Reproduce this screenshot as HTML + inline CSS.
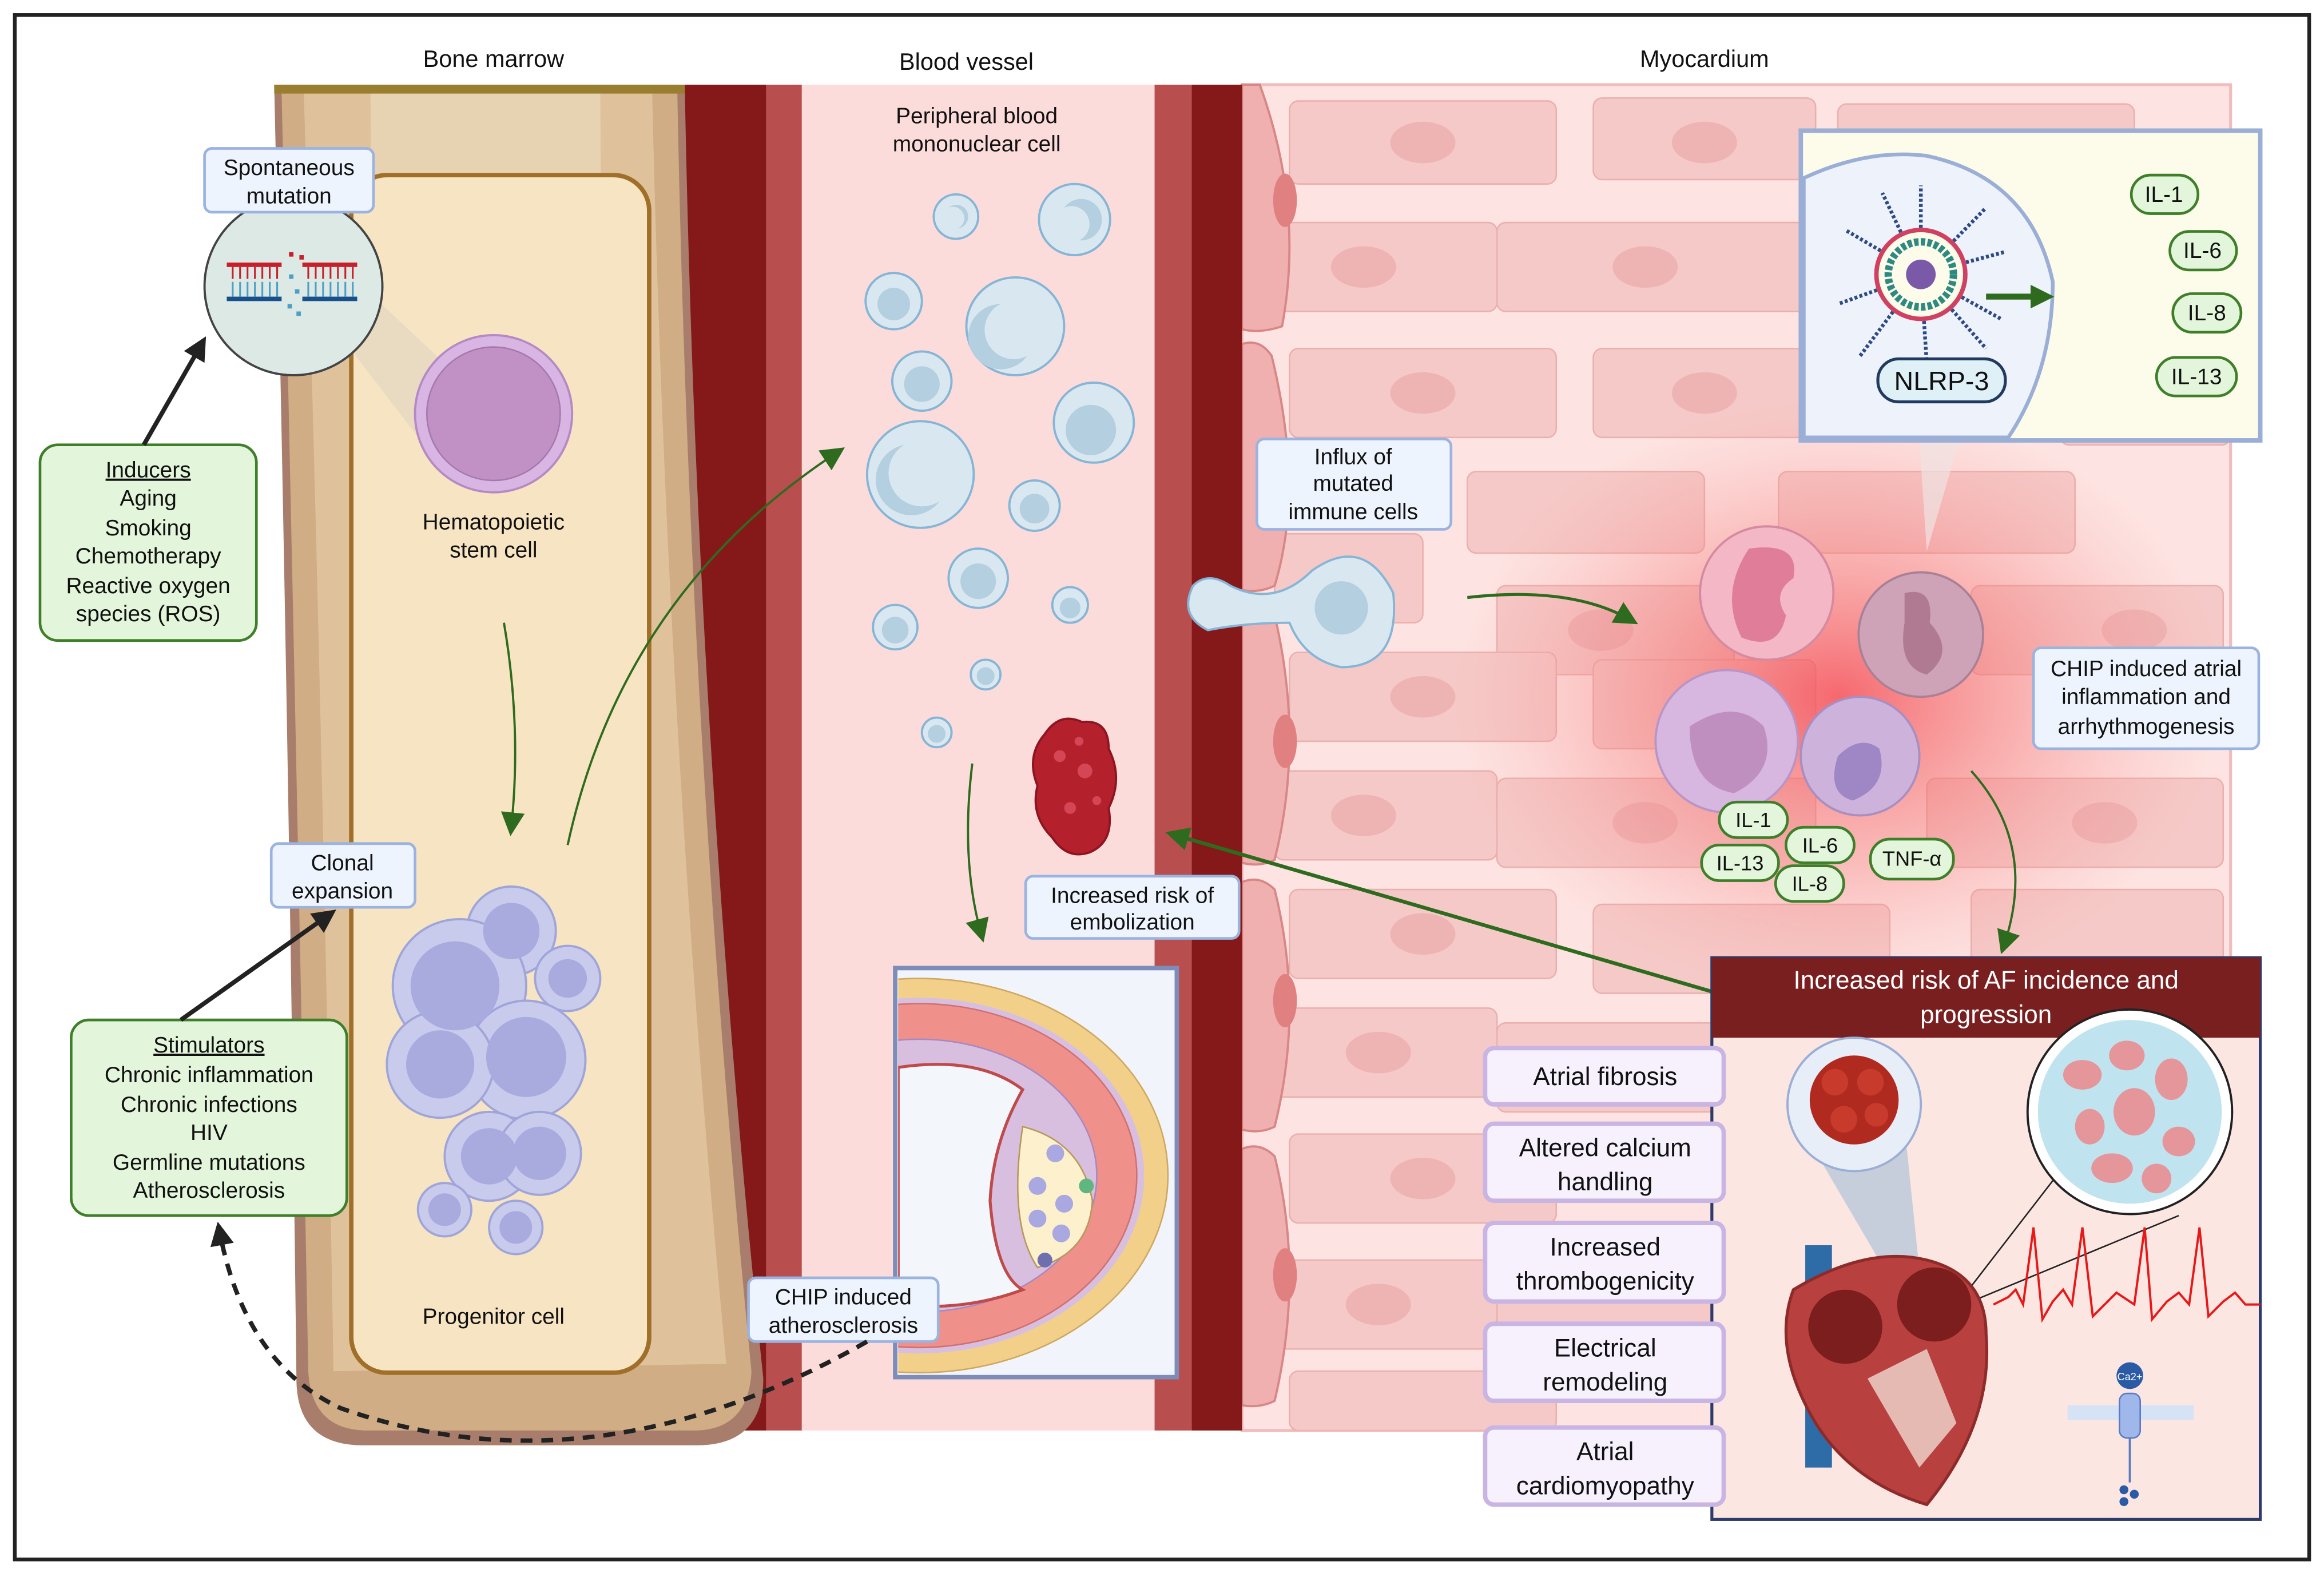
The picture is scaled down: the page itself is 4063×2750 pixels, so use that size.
<!DOCTYPE html>
<html><head><meta charset="utf-8"><style>
html,body{margin:0;padding:0;background:#fff}
svg{display:block}
text{font-family:"Liberation Sans Narrow","Liberation Sans",sans-serif;fill:#111}
</style></head><body>
<svg width="4063" height="2750" viewBox="0 0 1568 1061" xmlns="http://www.w3.org/2000/svg">
<defs>
<radialGradient id="glow" cx="0.5" cy="0.5" r="0.5">
<stop offset="0" stop-color="#f4525a" stop-opacity="0.85"/>
<stop offset="0.5" stop-color="#f57a7a" stop-opacity="0.45"/>
<stop offset="1" stop-color="#f8a0a0" stop-opacity="0"/>
</radialGradient>
<clipPath id="myo"><rect x="838" y="57" width="667" height="908"/></clipPath>
<clipPath id="ath"><rect x="606" y="655" width="186" height="272"/></clipPath>
<marker id="ga2" markerWidth="16" markerHeight="16" refX="10" refY="8" orient="auto" markerUnits="userSpaceOnUse"><path d="M0,0 L16,8 L0,16 z" fill="#2f6b1f"/></marker>
<marker id="ba" markerWidth="16" markerHeight="16" refX="10" refY="8" orient="auto" markerUnits="userSpaceOnUse"><path d="M0,0 L16,8 L0,16 z" fill="#222"/></marker>
</defs>
<rect x="0" y="0" width="1568" height="1061" fill="#fff"/>
<rect x="10" y="10" width="1548" height="1042" fill="none" stroke="#222" stroke-width="2.5"/>

<text x="333" y="45" font-size="16" text-anchor="middle">Bone marrow</text>
<text x="652" y="47" font-size="16" text-anchor="middle">Blood vessel</text>
<text x="1150" y="45" font-size="16" text-anchor="middle">Myocardium</text>

<!-- Myocardium -->
<rect x="838" y="57" width="667" height="908" fill="#fde4e2" stroke="#f0bcbc" stroke-width="2"/>
<g clip-path="url(#myo)" fill="#f5c9c7" stroke="#eab0ae" stroke-width="1">
<rect x="870" y="68" width="180" height="56" rx="6"/><rect x="1075" y="66" width="150" height="55" rx="6"/><rect x="1240" y="70" width="200" height="55" rx="6"/>
<rect x="860" y="150" width="150" height="60" rx="6"/><rect x="1010" y="150" width="215" height="60" rx="6"/><rect x="1300" y="150" width="200" height="60" rx="6"/>
<rect x="870" y="235" width="180" height="60" rx="6"/><rect x="1075" y="235" width="160" height="60" rx="6"/><rect x="1390" y="240" width="115" height="60" rx="6"/>
<rect x="990" y="318" width="160" height="55" rx="6"/><rect x="1200" y="318" width="200" height="55" rx="6"/>
<rect x="860" y="360" width="100" height="60" rx="6"/><rect x="1010" y="395" width="160" height="60" rx="6"/><rect x="1330" y="395" width="170" height="60" rx="6"/>
<rect x="870" y="440" width="180" height="60" rx="6"/><rect x="1075" y="445" width="150" height="60" rx="6"/>
<rect x="860" y="520" width="150" height="60" rx="6"/><rect x="1010" y="525" width="215" height="60" rx="6"/><rect x="1300" y="525" width="200" height="60" rx="6"/>
<rect x="870" y="600" width="180" height="60" rx="6"/><rect x="1075" y="610" width="200" height="60" rx="6"/><rect x="1330" y="600" width="170" height="60" rx="6"/>
<rect x="860" y="680" width="150" height="60" rx="6"/><rect x="1010" y="690" width="150" height="60" rx="6"/>
<rect x="870" y="765" width="180" height="60" rx="6"/><rect x="860" y="850" width="150" height="60" rx="6"/><rect x="1010" y="850" width="150" height="60" rx="6"/>
<rect x="870" y="925" width="180" height="40" rx="6"/>
</g>
<g fill="#eeb4b4">
<ellipse cx="960" cy="96" rx="22" ry="14"/><ellipse cx="1150" cy="96" rx="22" ry="14"/><ellipse cx="920" cy="180" rx="22" ry="14"/><ellipse cx="1110" cy="180" rx="22" ry="14"/><ellipse cx="960" cy="265" rx="22" ry="14"/><ellipse cx="1150" cy="265" rx="22" ry="14"/><ellipse cx="1080" cy="425" rx="22" ry="14"/><ellipse cx="960" cy="470" rx="22" ry="14"/><ellipse cx="920" cy="550" rx="22" ry="14"/><ellipse cx="1110" cy="555" rx="22" ry="14"/><ellipse cx="960" cy="630" rx="22" ry="14"/><ellipse cx="930" cy="710" rx="22" ry="14"/><ellipse cx="960" cy="795" rx="22" ry="14"/><ellipse cx="930" cy="880" rx="22" ry="14"/><ellipse cx="1420" cy="555" rx="22" ry="14"/><ellipse cx="1440" cy="425" rx="22" ry="14"/>
</g>
<ellipse cx="1240" cy="470" rx="260" ry="200" fill="url(#glow)"/>
<g fill="#f0b0b0" stroke="#d98686" stroke-width="1.5">
<path d="M838,57 L850,57 Q880,140 865,220 Q850,225 838,222 z"/>
<path d="M838,232 Q850,228 858,240 Q880,330 860,395 Q850,400 838,398 z"/>
<path d="M838,410 Q850,405 860,415 Q880,500 860,580 Q850,585 838,582 z"/>
<path d="M838,595 Q850,590 860,600 Q880,680 860,760 Q850,765 838,762 z"/>
<path d="M838,775 Q850,770 860,780 Q880,860 860,945 Q850,950 838,948 z"/>
</g>
<g fill="#e08080"><ellipse cx="867" cy="135" rx="8" ry="18"/><ellipse cx="867" cy="315" rx="8" ry="18"/><ellipse cx="867" cy="500" rx="8" ry="18"/><ellipse cx="867" cy="675" rx="8" ry="18"/><ellipse cx="867" cy="860" rx="8" ry="18"/></g>

<!-- Blood vessel -->
<rect x="462" y="57" width="55" height="908" fill="#85191a"/>
<rect x="517" y="57" width="24" height="908" fill="#b94e4e"/>
<rect x="541" y="57" width="238" height="908" fill="#fcdcdb"/>
<rect x="779" y="57" width="25" height="908" fill="#b94e4e"/>
<rect x="804" y="57" width="34" height="908" fill="#85191a"/>
<text x="659" y="83" font-size="15" text-anchor="middle">Peripheral blood</text>
<text x="659" y="102" font-size="15" text-anchor="middle">mononuclear cell</text>
<g fill="#d9e8f0" stroke="#86b5d6" stroke-width="1.5">
<circle cx="645" cy="146" r="15"/><circle cx="725" cy="148" r="24"/><circle cx="603" cy="203" r="19"/><circle cx="685" cy="220" r="33"/><circle cx="622" cy="257" r="20"/><circle cx="738" cy="285" r="27"/><circle cx="621" cy="320" r="36"/><circle cx="698" cy="341" r="17"/><circle cx="660" cy="390" r="20"/><circle cx="722" cy="408" r="12"/><circle cx="604" cy="423" r="15"/><circle cx="665" cy="455" r="10"/><circle cx="632" cy="494" r="10"/>
</g>
<g fill="#b3cfe0">
<path d="M640,140 a8,8 0 1,1 6,14 a4,4 0 1,0 -6,-14z"/><path d="M718,140 a14,14 0 1,1 10,22 a6,6 0 1,0 -10,-22z"/><circle cx="603" cy="205" r="11"/><path d="M675,205 a22,22 0 1,0 18,35 a10,10 0 1,1 -18,-35z"/><circle cx="622" cy="259" r="12"/><circle cx="736" cy="290" r="17"/><path d="M610,300 a24,24 0 1,0 24,38 a12,12 0 1,1 -24,-38z"/><circle cx="698" cy="343" r="10"/><circle cx="660" cy="392" r="12"/><circle cx="722" cy="410" r="7"/><circle cx="604" cy="425" r="9"/><circle cx="665" cy="456" r="6"/><circle cx="632" cy="495" r="6"/>
</g>
<path d="M705,495 Q715,480 730,487 Q748,485 748,505 Q758,525 748,545 Q752,568 735,575 Q720,580 710,565 Q695,550 700,530 Q692,510 705,495z" fill="#b5202d" stroke="#8e1520" stroke-width="1.5"/>
<g fill="#d44555"><circle cx="715" cy="510" r="4"/><circle cx="732" cy="520" r="5"/><circle cx="722" cy="545" r="4"/><circle cx="740" cy="540" r="3"/><circle cx="728" cy="500" r="3"/></g>
<!-- atherosclerosis inset -->
<rect x="604" y="653" width="190" height="276" fill="#f1f5fb" stroke="#7d8cb9" stroke-width="3"/>
<g clip-path="url(#ath)">
<ellipse cx="620" cy="793" rx="168" ry="133" fill="#f2d089" stroke="#cfa760"/>
<ellipse cx="620" cy="793" rx="152" ry="120" fill="#d8bfe0"/>
<ellipse cx="620" cy="793" rx="147" ry="116" fill="#f0908a" stroke="#d07070"/>
<ellipse cx="620" cy="793" rx="120" ry="92" fill="#d8bfe0" stroke="#a888c0"/>
<path d="M606,720 Q660,712 690,735 Q670,770 668,810 Q672,860 690,870 Q650,885 606,880z" fill="#f3f6fb" stroke="#c04a4a" stroke-width="2"/>
<path d="M690,760 Q730,770 737,810 Q735,845 700,855 Q680,825 690,760z" fill="#fdf0cc" stroke="#b8985a"/>
</g>
<g fill="#a9a8e0"><circle cx="712" cy="778" r="6"/><circle cx="700" cy="800" r="6"/><circle cx="718" cy="812" r="6"/><circle cx="700" cy="822" r="6"/><circle cx="716" cy="832" r="6"/></g>
<circle cx="733" cy="800" r="5" fill="#5fb67e"/><circle cx="705" cy="850" r="5" fill="#6f6fb0"/>

<!-- Bone -->
<path d="M185,57 L462,57 Q470,500 515,930 Q515,975 470,975 L245,975 Q200,975 200,930 Q195,500 185,57z" fill="#a97d6b"/>
<path d="M190,62 L457,62 Q465,500 507,925 Q505,965 468,965 L248,965 Q210,965 208,925 Q200,500 190,62z" fill="#d0ad85"/>
<path d="M205,62 L440,62 Q450,500 490,920 L225,925 Q218,500 205,62z" fill="#dfc29c"/>
<path d="M250,62 L405,62 L410,920 L255,920z" fill="#e7d3b1"/>
<rect x="185" y="57" width="277" height="6" fill="#9a7e2f"/>
<rect x="237" y="118" width="201" height="808" rx="24" fill="#f7e4c3" stroke="#a0702a" stroke-width="3"/>
<path d="M220,170 L300,245 L290,305 L240,240z" fill="#e3d8c2" opacity="0.8"/>
<circle cx="333" cy="279" r="53" fill="#d8b5e3" stroke="#b58ac4" stroke-width="1.5"/>
<circle cx="333" cy="279" r="45" fill="#c191c6" stroke="#a47aac" stroke-width="1"/>
<text x="333" y="357" font-size="15" text-anchor="middle">Hematopoietic</text>
<text x="333" y="376" font-size="15" text-anchor="middle">stem cell</text>
<g fill="#c9cbed" stroke="#9fa5d9" stroke-width="1.5">
<circle cx="345" cy="628" r="30"/><circle cx="383" cy="660" r="22"/><circle cx="310" cy="665" r="45"/><circle cx="355" cy="715" r="40"/><circle cx="297" cy="718" r="36"/><circle cx="330" cy="780" r="30"/><circle cx="364" cy="778" r="28"/><circle cx="300" cy="816" r="18"/><circle cx="348" cy="828" r="18"/>
</g>
<g fill="#a9aade"><circle cx="345" cy="628" r="19"/><circle cx="383" cy="660" r="13"/><circle cx="307" cy="665" r="30"/><circle cx="355" cy="713" r="27"/><circle cx="297" cy="718" r="23"/><circle cx="330" cy="780" r="19"/><circle cx="364" cy="778" r="18"/><circle cx="300" cy="816" r="11"/><circle cx="348" cy="828" r="11"/></g>
<text x="333" y="893" font-size="15" text-anchor="middle">Progenitor cell</text>

<circle cx="198" cy="193" r="60" fill="#dde9e5" stroke="#444" stroke-width="1.5"/>
<rect x="153" y="177" width="37" height="3" fill="#c8202a"/><rect x="204" y="177" width="37" height="3" fill="#c8202a"/>
<rect x="153" y="200" width="37" height="3" fill="#17508a"/><rect x="204" y="200" width="37" height="3" fill="#17508a"/>
<g stroke="#c8202a" stroke-width="1.2"><path d="M157,180v8M162,180v8M167,180v8M172,180v8M177,180v8M182,180v8M187,180v8M208,180v8M213,180v8M218,180v8M223,180v8M228,180v8M233,180v8M238,180v8"/></g>
<g stroke="#4aa0c8" stroke-width="1.2"><path d="M157,190v10M162,190v10M167,190v10M172,190v10M177,190v10M182,190v10M187,190v10M208,190v10M213,190v10M218,190v10M223,190v10M228,190v10M233,190v10M238,190v10"/></g>
<g fill="#4aa0c8"><rect x="195" y="185" width="3" height="3"/><rect x="199" y="195" width="3" height="3"/><rect x="194" y="205" width="3" height="3"/><rect x="200" y="210" width="3" height="3"/></g>
<g fill="#c8202a"><rect x="195" y="170" width="3" height="3"/><rect x="202" y="172" width="3" height="3"/></g>

<g fill="#eef4fd" stroke="#9bb3e0" stroke-width="1.8">
<rect x="138" y="100" width="114" height="43" rx="5"/>
<rect x="183" y="569" width="97" height="43" rx="5"/>
<rect x="692" y="591" width="144" height="42" rx="5"/>
<rect x="505" y="862" width="128" height="43" rx="5"/>
<rect x="848" y="296" width="131" height="61" rx="5"/>
<rect x="1372" y="437" width="152" height="68" rx="5"/>
</g>
<g font-size="15" text-anchor="middle">
<text x="195" y="118">Spontaneous</text><text x="195" y="137">mutation</text>
<text x="231" y="587">Clonal</text><text x="231" y="606">expansion</text>
<text x="764" y="609">Increased risk of</text><text x="764" y="627">embolization</text>
<text x="569" y="880">CHIP induced</text><text x="569" y="899">atherosclerosis</text>
<text x="913" y="313">Influx of</text><text x="913" y="331">mutated</text><text x="913" y="350">immune cells</text>
<text x="1448" y="456">CHIP induced atrial</text><text x="1448" y="475">inflammation and</text><text x="1448" y="495">arrhythmogenesis</text>
</g>

<rect x="27" y="300" width="146" height="132" rx="12" fill="#e3f5da" stroke="#3f7f2a" stroke-width="1.8"/>
<g font-size="15" text-anchor="middle">
<text x="100" y="322" text-decoration="underline">Inducers</text><text x="100" y="341">Aging</text><text x="100" y="361">Smoking</text><text x="100" y="380">Chemotherapy</text><text x="100" y="400">Reactive oxygen</text><text x="100" y="419">species (ROS)</text>
</g>
<rect x="48" y="688" width="186" height="132" rx="12" fill="#e3f5da" stroke="#3f7f2a" stroke-width="1.8"/>
<g font-size="15" text-anchor="middle">
<text x="141" y="710" text-decoration="underline">Stimulators</text><text x="141" y="730">Chronic inflammation</text><text x="141" y="750">Chronic infections</text><text x="141" y="769">HIV</text><text x="141" y="789">Germline mutations</text><text x="141" y="808">Atherosclerosis</text>
</g>

<line x1="97" y1="300" x2="136" y2="232" stroke="#222" stroke-width="3" marker-end="url(#ba)"/>
<line x1="122" y1="688" x2="222" y2="617" stroke="#222" stroke-width="3" marker-end="url(#ba)"/>
<path d="M585,905 Q400,1010 230,950 Q165,920 148,830" fill="none" stroke="#222" stroke-width="3" stroke-dasharray="8,6" marker-end="url(#ba)"/>
<path d="M340,420 Q352,490 345,558" fill="none" stroke="#2f6b1f" stroke-width="1.5" marker-end="url(#ga2)"/>
<path d="M383,570 Q420,400 565,305" fill="none" stroke="#2f6b1f" stroke-width="1.5" marker-end="url(#ga2)"/>
<path d="M656,515 Q648,580 662,630" fill="none" stroke="#2f6b1f" stroke-width="1.5" marker-end="url(#ga2)"/>
<path d="M990,403 Q1060,395 1100,418" fill="none" stroke="#2f6b1f" stroke-width="2" marker-end="url(#ga2)"/>
<path d="M1330,520 Q1375,570 1352,638" fill="none" stroke="#2f6b1f" stroke-width="1.5" marker-end="url(#ga2)"/>
<path d="M1200,682 L792,563" fill="none" stroke="#2f6b1f" stroke-width="2.5" marker-end="url(#ga2)"/>

<path d="M805,395 Q815,385 830,395 Q860,410 885,385 Q920,360 940,400 Q945,450 905,450 Q880,445 870,420 Q840,420 815,425 Q795,415 805,395z" fill="#d9e8f0" stroke="#86b5d6" stroke-width="1.5"/>
<circle cx="905" cy="410" r="18" fill="#b3cfe0"/>

<path d="M1295,297 L1322,297 L1300,372z" fill="#f0e3e3" opacity="0.7"/>
<circle cx="1192" cy="400" r="45" fill="#f3b7c5" stroke="#d68aa0" stroke-width="1.5"/>
<path d="M1180,370 Q1215,365 1210,390 Q1195,400 1205,415 Q1200,440 1175,430 Q1160,400 1180,370z" fill="#e07e99"/>
<circle cx="1296" cy="428" r="42" fill="#cfa3b7" stroke="#a98196" stroke-width="1.5"/>
<path d="M1285,400 Q1305,395 1302,420 Q1320,440 1300,455 Q1280,450 1285,420z" fill="#b07a92"/>
<circle cx="1165" cy="500" r="48" fill="#d7b6df" stroke="#b995c6" stroke-width="1.5"/>
<path d="M1140,490 Q1170,470 1190,490 Q1200,520 1170,535 Q1140,530 1140,490z" fill="#bf8fbf"/>
<circle cx="1255" cy="510" r="40" fill="#cdb3dc" stroke="#a98ec0" stroke-width="1.5"/>
<path d="M1240,510 Q1255,495 1268,505 Q1275,530 1250,540 Q1232,535 1240,510z" fill="#9f86c4"/>

<g fill="#e3f5da" stroke="#3f7f2a" stroke-width="1.8">
<rect x="1160" y="541" width="46" height="24" rx="12"/><rect x="1205" y="558" width="46" height="24" rx="12"/><rect x="1148" y="570" width="52" height="24" rx="12"/><rect x="1198" y="584" width="46" height="24" rx="12"/><rect x="1262" y="566" width="56" height="27" rx="13"/>
</g>
<g font-size="14" text-anchor="middle">
<text x="1183" y="558">IL-1</text><text x="1228" y="575">IL-6</text><text x="1174" y="587">IL-13</text><text x="1221" y="601">IL-8</text><text x="1290" y="584">TNF-α</text>
</g>

<rect x="1215" y="88" width="310" height="209" fill="#fdfbea" stroke="#9aaed6" stroke-width="3"/>
<path d="M1217,120 Q1260,100 1300,105 Q1370,120 1385,190 Q1385,250 1355,295 L1217,295z" fill="#edf2fb" stroke="#9aaed6" stroke-width="2.5"/>
<g stroke="#2e4a85" stroke-width="2.5" stroke-dasharray="2,1.5">
<line x1="1296" y1="185" x2="1296" y2="125"/><line x1="1296" y1="185" x2="1340" y2="140"/><line x1="1296" y1="185" x2="1350" y2="215"/><line x1="1296" y1="185" x2="1340" y2="235"/><line x1="1296" y1="185" x2="1300" y2="245"/><line x1="1296" y1="185" x2="1255" y2="240"/><line x1="1296" y1="185" x2="1240" y2="205"/><line x1="1296" y1="185" x2="1245" y2="155"/><line x1="1296" y1="185" x2="1270" y2="130"/><line x1="1296" y1="185" x2="1352" y2="170"/>
</g>
<circle cx="1296" cy="185" r="30" fill="#fdfbea" stroke="#d04060" stroke-width="3"/>
<circle cx="1296" cy="185" r="22" fill="none" stroke="#2e8a80" stroke-width="5" stroke-dasharray="3,1.5"/>
<circle cx="1296" cy="185" r="10" fill="#7a5aa8"/>
<rect x="1267" y="242" width="86" height="29" rx="14" fill="#dff0f7" stroke="#233a60" stroke-width="2"/>
<text x="1310" y="263" font-size="18" text-anchor="middle">NLRP-3</text>
<line x1="1340" y1="200" x2="1380" y2="200" stroke="#2f6b1f" stroke-width="4" marker-end="url(#ga2)"/>
<g fill="#e3f5da" stroke="#3f7f2a" stroke-width="1.8">
<rect x="1438" y="118" width="45" height="26" rx="13"/><rect x="1464" y="156" width="45" height="26" rx="13"/><rect x="1466" y="198" width="46" height="26" rx="13"/><rect x="1455" y="241" width="54" height="26" rx="13"/>
</g>
<g font-size="15" text-anchor="middle">
<text x="1460" y="136">IL-1</text><text x="1486" y="174">IL-6</text><text x="1489" y="216">IL-8</text><text x="1482" y="259">IL-13</text>
</g>

<rect x="1155" y="646" width="370" height="379" fill="#fbe6e2" stroke="#2d3a6a" stroke-width="2"/>
<rect x="1155" y="646" width="370" height="54" fill="#7a1f20"/>
<text x="1340" y="667" font-size="17" text-anchor="middle" style="fill:#fff">Increased risk of AF incidence and</text>
<text x="1340" y="690" font-size="17" text-anchor="middle" style="fill:#fff">progression</text>
<g fill="#f6f1fc" stroke="#c9b5e4" stroke-width="3">
<rect x="1002" y="707" width="161" height="38" rx="6"/><rect x="1002" y="758" width="161" height="52" rx="6"/><rect x="1002" y="825" width="161" height="53" rx="6"/><rect x="1002" y="893" width="161" height="52" rx="6"/><rect x="1002" y="963" width="161" height="52" rx="6"/>
</g>
<g font-size="17" text-anchor="middle">
<text x="1083" y="732">Atrial fibrosis</text>
<text x="1083" y="780">Altered calcium</text><text x="1083" y="803">handling</text>
<text x="1083" y="847">Increased</text><text x="1083" y="870">thrombogenicity</text>
<text x="1083" y="915">Electrical</text><text x="1083" y="938">remodeling</text>
<text x="1083" y="985">Atrial</text><text x="1083" y="1008">cardiomyopathy</text>
</g>
<path d="M1215,760 L1285,760 L1300,905 z" fill="#b9c8da" opacity="0.8"/>
<circle cx="1251" cy="745" r="45" fill="#e8eef8" stroke="#9aaed6" stroke-width="1.5"/>
<circle cx="1251" cy="742" r="30" fill="#b02a20"/>
<g fill="#c83a2c"><circle cx="1238" cy="730" r="9"/><circle cx="1262" cy="730" r="9"/><circle cx="1244" cy="755" r="9"/><circle cx="1266" cy="752" r="8"/></g>
<line x1="1305" y1="900" x2="1390" y2="790" stroke="#222" stroke-width="1"/>
<line x1="1330" y1="878" x2="1470" y2="820" stroke="#222" stroke-width="1"/>
<circle cx="1437" cy="750" r="69" fill="#fff" stroke="#222" stroke-width="1.5"/>
<circle cx="1437" cy="750" r="62" fill="#bfe3ef"/>
<g fill="#e5969a"><ellipse cx="1405" cy="725" rx="13" ry="10"/><ellipse cx="1435" cy="712" rx="12" ry="10"/><ellipse cx="1465" cy="728" rx="11" ry="14"/><ellipse cx="1410" cy="760" rx="10" ry="12"/><ellipse cx="1440" cy="750" rx="14" ry="16"/><ellipse cx="1470" cy="770" rx="11" ry="10"/><ellipse cx="1425" cy="788" rx="14" ry="10"/><ellipse cx="1455" cy="795" rx="10" ry="10"/></g>
<rect x="1218" y="840" width="18" height="150" fill="#2e6ca8"/>
<path d="M1210,870 Q1260,840 1300,850 Q1340,860 1340,900 Q1345,960 1300,1015 Q1250,1000 1225,960 Q1195,910 1210,870z" fill="#b8403e" stroke="#8e2b2a" stroke-width="2"/>
<circle cx="1245" cy="895" r="25" fill="#7c1d1e"/><circle cx="1305" cy="880" r="25" fill="#7c1d1e"/>
<path d="M1260,930 L1300,910 L1320,960 L1295,990z" fill="#f0d8d0" opacity="0.8"/>
<polyline points="1345,880 1355,875 1360,870 1365,880 1372,828 1378,890 1385,878 1392,870 1398,880 1405,828 1412,888 1420,880 1428,872 1440,880 1447,828 1452,890 1462,878 1470,872 1477,880 1484,828 1490,888 1500,878 1508,872 1515,880 1525,880" fill="none" stroke="#e81818" stroke-width="1.5"/>
<circle cx="1437" cy="928" r="9" fill="#2b5ba5"/>
<text x="1437" y="931" font-size="7" text-anchor="middle" style="fill:#fff">Ca2+</text>
<rect x="1395" y="948" width="85" height="10" fill="#d6e2f6"/>
<rect x="1430" y="940" width="14" height="30" rx="5" fill="#9fb7ea" stroke="#5b7cc0"/>
<line x1="1437" y1="970" x2="1437" y2="1000" stroke="#5b7cc0" stroke-width="1.5"/>
<g fill="#2b5ba5"><circle cx="1433" cy="1005" r="3"/><circle cx="1440" cy="1008" r="3"/><circle cx="1433" cy="1013" r="3"/></g>
</svg>
</body></html>
